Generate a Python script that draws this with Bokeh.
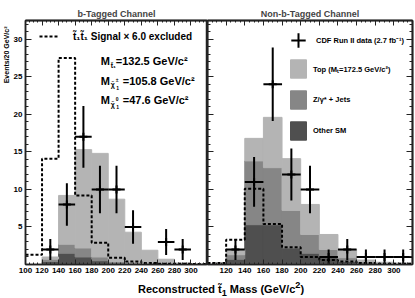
from bokeh.plotting import figure
from bokeh.models import (Range1d, FixedTicker, LinearAxis, Legend, LegendItem,
                          Label, ColumnDataSource, Div, Title)
from bokeh.layouts import row, column
from bokeh.embed import file_html
from bokeh.resources import INLINE

# ---------------- data ----------------
bin_centers = [110, 130, 150, 170, 190, 210, 230, 250, 270, 290, 310]
bin_edges = [100, 120, 140, 160, 180, 200, 220, 240, 260, 280, 300, 320]

# b-tagged channel (stack components)
b_other = [0, 0.4, 1.5, 1.0, 0.5, 0.2, 0.1, 0.05, 0, 0, 0]
b_zjets = [0, 0.3, 1.2, 1.2, 0.5, 0.2, 0.2, 0.15, 0.1, 0, 0]
b_top = [0, 0.3, 6.5, 13.1, 13.8, 8.3, 4.0, 1.7, 0.6, 0.2, 0]
b_signal = [1.3, 14.1, 27.5, 9.2, 2.9, 0.9, 0.4, 0.2, 0.1, 0.1, 0.05]
b_data_x = [130, 150, 170, 190, 210, 230, 270, 290]
b_data_n = [2, 8, 17, 10, 10, 5, 3, 2]
b_data_err = [1.41, 2.83, 4.12, 3.16, 3.16, 2.24, 1.73, 1.41]

# non-b-tagged channel
n_other = [0, 0.7, 5.3, 5.3, 2.2, 1.5, 0.9, 0.4, 0.2, 0.1, 0.05]
n_zjets = [0, 0.6, 8.5, 7.6, 5.0, 2.5, 1.1, 0.5, 0.2, 0.1, 0.05]
n_top = [0, 0.7, 3.0, 6.7, 6.9, 4.0, 2.0, 1.1, 0.2, 0.1, 0.1]
n_signal = [0.2, 3.3, 10.1, 5.4, 2.3, 1.0, 0.6, 0.4, 0.2, 0.1, 0.1]
n_data_x = [130, 150, 170, 190, 210, 230, 250, 270, 290, 310]
n_data_n = [2, 11, 24, 12, 10, 1, 2, 1, 1, 1]
n_data_err = [1.41, 3.32, 4.9, 3.46, 3.16, 1.0, 1.41, 1.0, 1.0, 1.0]

x_tick_left = [100, 120, 140, 160, 180, 200, 220, 240, 260, 280, 300]
x_tick_right = [120, 140, 160, 180, 200, 220, 240, 260, 280, 300]
y_ticks = [5, 10, 15, 20, 25, 30]

C_TOP = "#b4b4b4"
C_Z = "#868686"
C_OTHER = "#4f4f4f"
FONT = "Liberation Sans"
AX = "#222222"

x_major_all = list(range(100, 321, 20))
x_minor = list(range(100, 325, 5))
y_major_all = list(range(0, 33, 5))
y_minor = list(range(0, 33))


def base_axis(ax):
    ax.major_tick_out = 0
    ax.minor_tick_out = 0
    ax.axis_line_color = AX
    ax.axis_line_width = 1.5
    ax.major_tick_line_color = AX
    ax.minor_tick_line_color = AX
    ax.major_label_standoff = 0


def labeled_axis(p, side, ticks, minor, tick_in, minor_in):
    ax = LinearAxis(ticker=FixedTicker(ticks=ticks, minor_ticks=minor))
    base_axis(ax)
    ax.major_tick_in = tick_in
    ax.minor_tick_in = minor_in
    ax.major_label_text_font = FONT
    ax.major_label_text_font_size = "8px"
    ax.major_label_text_font_style = "bold"
    ax.major_label_text_color = "black"
    ax.major_label_standoff = 3
    p.add_layout(ax, side)


def tick_axes(p, side, major, minor, tick_in, minor_in):
    # ticks only (no labels): two stacked axes with zero extent
    for pos, ln in ((major, tick_in), (minor, minor_in)):
        ax = LinearAxis(ticker=FixedTicker(ticks=[], minor_ticks=pos))
        base_axis(ax)
        ax.major_tick_in = 0
        ax.minor_tick_in = ln
        p.add_layout(ax, side)


def make_panel(title, width, border_left, border_right, other, zjets, top,
               signal, dx, dn, derr):
    p = figure(width=width, height=278, x_range=Range1d(100, 320),
               y_range=Range1d(0, 32.5), output_backend="svg",
               toolbar_location=None, x_axis_location=None,
               y_axis_location=None, title=title,
               min_border_left=border_left, min_border_right=border_right,
               min_border_top=20, min_border_bottom=14)
    p.xgrid.visible = False
    p.ygrid.visible = False
    p.outline_line_color = AX
    p.outline_line_width = 1.5
    p.background_fill_color = "white"
    p.border_fill_color = "white"
    p.title.text_font = FONT
    p.title.text_font_size = "9px"
    p.title.text_font_style = "bold"
    p.title.align = "center"
    p.title.standoff = 3

    src = ColumnDataSource(dict(x=bin_centers, other=other, zjets=zjets, top=top))
    rs = p.vbar_stack(["other", "zjets", "top"], x="x", width=20, source=src,
                      color=[C_OTHER, C_Z, C_TOP])

    edges_y = list(signal) + [signal[-1]]
    sig = p.step(x=bin_edges, y=edges_y, mode="after", line_color="black",
                 line_width=2, line_dash="3 2")

    dsrc = ColumnDataSource(dict(
        x=dx, n=dn,
        lo=[n - e for n, e in zip(dn, derr)],
        hi=[n + e for n, e in zip(dn, derr)],
        x0=[x - 10 for x in dx], x1=[x + 10 for x in dx]))
    p.segment(x0="x", y0="lo", x1="x", y1="hi", source=dsrc,
              line_color="black", line_width=2)
    p.segment(x0="x0", y0="n", x1="x1", y1="n", source=dsrc,
              line_color="black", line_width=2)
    dmark = p.scatter(x="x", y="n", source=dsrc, marker="cross", size=8,
                      line_color="black", line_width=2)
    return p, rs, sig, dmark


p1, rs1, sig1, dm1 = make_panel("b-Tagged Channel", 207, 25, 0,
                                b_other, b_zjets, b_top, b_signal,
                                b_data_x, b_data_n, b_data_err)
p2, rs2, sig2, dm2 = make_panel("Non-b-Tagged Channel", 207, 0, 2,
                                n_other, n_zjets, n_top, n_signal,
                                n_data_x, n_data_n, n_data_err)
p1.title.offset = -12

# axes, left panel
labeled_axis(p1, "below", x_tick_left, x_minor, 5, 2)
labeled_axis(p1, "left", y_ticks, y_minor, 6, 3)
tick_axes(p1, "above", x_major_all, x_minor, 5, 2)
# axes, right panel
labeled_axis(p2, "below", x_tick_right, x_minor, 5, 2)
tick_axes(p2, "above", x_major_all, x_minor, 5, 2)
tick_axes(p2, "left", y_major_all, y_minor, 6, 3)
tick_axes(p2, "right", y_major_all, y_minor, 6, 3)

# y axis title (top aligned, on the left)
ytitle = Title(text="Events/20 GeV/c\u00b2", align="right", text_font=FONT,
               text_font_size="7px", text_font_style="bold",
               text_color="black", standoff=1, offset=6)
p1.add_layout(ytitle, "left")


def legend_style(lg, size="7.5px"):
    lg.background_fill_alpha = 0
    lg.border_line_alpha = 0
    lg.padding = 0
    lg.margin = 0
    lg.label_text_font = FONT
    lg.label_text_font_size = size
    lg.label_text_font_style = "bold"
    lg.label_text_color = "black"
    lg.label_text_baseline = "middle"


# left legend (signal)
lg_sig = Legend(items=[LegendItem(label="t\u0303\u2081t\u0303\u2081 Signal \u00d7 6.0 excluded",
                                  renderers=[sig1])],
                location=(14, 222), glyph_width=19, glyph_height=12,
                label_height=12, label_standoff=15)
legend_style(lg_sig, "10px")
p1.add_layout(lg_sig)

# mass labels
mass_lines = [
    (27.1, "M", "t\u0303\u2081", None, "=132.5 GeV/c\u00b2", 15),
    (24.45, "M", "\u03c7\u0303", "\u00b1", "=105.8 GeV/c\u00b2", 22),
    (21.9, "M", "\u03c7\u0303", "0", "=47.6 GeV/c\u00b2", 22),
]
for yv, m, sub, sup, rest, off in mass_lines:
    common = dict(text_font=FONT, text_font_style="bold", text_color="black",
                  text_baseline="middle")
    p1.add_layout(Label(x=191, y=yv, text=m, text_font_size="11px", **common))
    p1.add_layout(Label(x=191, y=yv, x_offset=10, y_offset=-4, text=sub,
                        text_font_size="7px", **common))
    if sup is not None:
        p1.add_layout(Label(x=191, y=yv, x_offset=15, y_offset=1, text=sup,
                            text_font_size="5px", **common))
        p1.add_layout(Label(x=191, y=yv, x_offset=15.5, y_offset=-7, text="1",
                            text_font_size="5px", **common))
    p1.add_layout(Label(x=191, y=yv, x_offset=off, text=rest,
                        text_font_size="11px", **common))

# right legends
lg_data = Legend(items=[LegendItem(label="CDF Run II data (2.7 fb\u207b\u00b9)",
                                   renderers=[dm2])],
                 location=(73, 206), glyph_width=36, glyph_height=36,
                 label_height=36, label_standoff=-3)
legend_style(lg_data)
p2.add_layout(lg_data)

lg_bkg = Legend(items=[
    LegendItem(label="Top (M\u209c=172.5 GeV/c\u00b2)", renderers=[rs2[2]]),
    LegendItem(label="Z/\u03b3* + Jets", renderers=[rs2[1]]),
    LegendItem(label="Other SM", renderers=[rs2[0]]),
], location=(81, 122), glyph_width=20, glyph_height=23, label_height=23,
    spacing=8, label_standoff=5)
legend_style(lg_bkg)
p2.add_layout(lg_bkg)

xlabel = Div(text="Reconstructed t\u0303<sub>1</sub> Mass (GeV/c<sup>2</sup>)",
             width=414, height=18, margin=(0, 0, 0, 0),
             styles={"text-align": "center", "padding-left": "28px",
                     "font-family": FONT, "font-size": "11px",
                     "font-weight": "bold", "color": "black",
                     "line-height": "14px"})

layout = column(row(p1, p2, spacing=0), xlabel, spacing=0)

with open("out.html", "w") as f:
    f.write(file_html(layout, INLINE))
